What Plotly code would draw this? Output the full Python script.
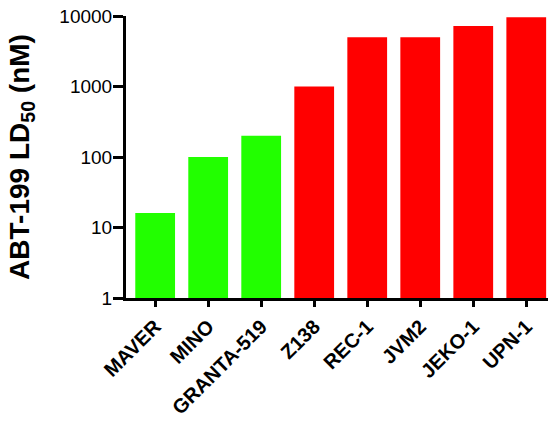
import plotly.graph_objects as go

# ABT-199 LD50 per mantle cell lymphoma line
cell_lines = ["MAVER", "MINO", "GRANTA-519", "Z138", "REC-1", "JVM2", "JEKO-1", "UPN-1"]
ld50_nm = [16, 100, 200, 1000, 5000, 5000, 7200, 9600]
group = ["sensitive", "sensitive", "sensitive", "resistant", "resistant",
         "resistant", "resistant", "resistant"]

# log-axis tick positions
major_ticks = [1, 10, 100, 1000, 10000]
minor_ticks = [m * d for d in [1, 10, 100, 1000] for m in range(2, 10)]

group_colors = {"sensitive": "#22ff00", "resistant": "#ff0000"}
bar_colors = [group_colors[g] for g in group]

fig = go.Figure()
fig.add_trace(
    go.Bar(
        x=cell_lines,
        y=ld50_nm,
        marker=dict(color=bar_colors, line=dict(width=0)),
        width=0.75,
    )
)

# minor ticks of the log axis, drawn as short dashes hugging the y axis line
fig.add_trace(
    go.Scatter(
        x=[-0.009] * len(minor_ticks),
        y=minor_ticks,
        xaxis="x2",
        mode="markers",
        marker=dict(symbol="line-ew-open", size=8, color="black",
                    line=dict(color="black", width=2.5)),
        cliponaxis=False,
        hoverinfo="skip",
        showlegend=False,
    )
)

font_family = "Liberation Sans, Arial, sans-serif"

fig.update_layout(
    width=548,
    height=422,
    margin=dict(l=126, r=0, t=16, b=124, autoexpand=False),
    paper_bgcolor="white",
    plot_bgcolor="white",
    showlegend=False,
    font=dict(family=font_family, color="black"),
    xaxis=dict(
        type="category",
        range=[-0.55, 7.41],
        automargin=False,
        showline=True,
        linecolor="black",
        linewidth=3,
        ticks="outside",
        ticklen=6,
        tickwidth=3,
        tickcolor="black",
        tickangle=-45,
        tickfont=dict(size=20, family=font_family, weight="bold"),
        showgrid=False,
        zeroline=False,
    ),
    xaxis2=dict(
        overlaying="x",
        anchor="y",
        range=[0, 1],
        showticklabels=False,
        showline=False,
        showgrid=False,
        zeroline=False,
        ticks="",
        automargin=False,
    ),
    yaxis=dict(
        type="log",
        range=[0, 4],
        automargin=False,
        tickmode="array",
        tickvals=major_ticks,
        ticktext=[str(v) for v in major_ticks],
        showline=True,
        linecolor="black",
        linewidth=3,
        ticks="outside",
        ticklen=10,
        tickwidth=3,
        tickcolor="black",
        tickfont=dict(size=19, family=font_family),
        ticklabelstandoff=-3,
        showgrid=False,
        zeroline=False,
        title=dict(
            text="ABT-199 LD<sub>50</sub> (nM)",
            font=dict(size=28, family=font_family, weight="bold"),
            standoff=22,
        ),
    ),
)

fig.write_html("out.html")
